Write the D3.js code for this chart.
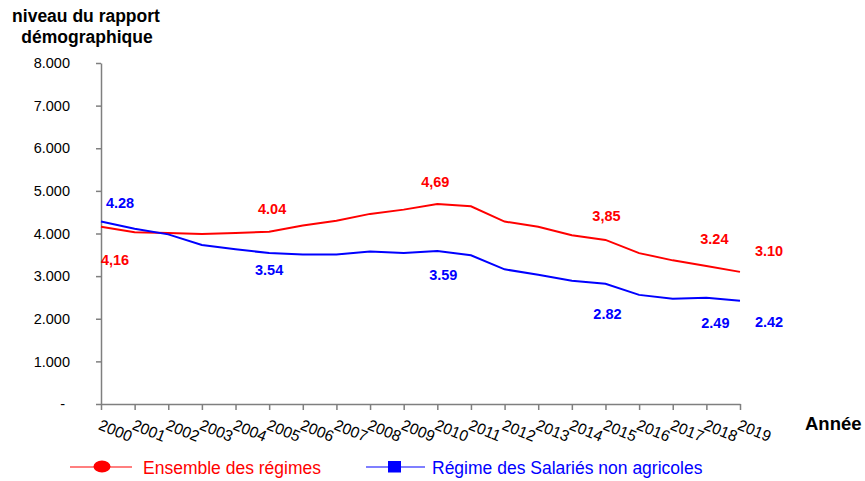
<!DOCTYPE html>
<html>
<head>
<meta charset="utf-8">
<script src="https://cdn.jsdelivr.net/npm/d3@7"></script>
<style>
  body { margin: 0; background: #fff; }
  text { font-family: "Liberation Sans", Arial, sans-serif; }
</style>
</head>
<body>
<svg width="865" height="481"></svg>
<script>
// data
var years = d3.range(2000, 2020);
var ensemble = [4.16, 4.03, 4.01, 3.99, 4.01, 4.04, 4.19, 4.30, 4.46, 4.56, 4.69, 4.64, 4.28, 4.16, 3.96, 3.85, 3.54, 3.37, 3.24, 3.10];
var salaries = [4.28, 4.11, 3.98, 3.73, 3.63, 3.54, 3.51, 3.51, 3.58, 3.54, 3.59, 3.49, 3.16, 3.03, 2.89, 2.82, 2.56, 2.47, 2.49, 2.42];
var yTicks = [0, 1, 2, 3, 4, 5, 6, 7, 8];
var yTickLabels = ["-", "1.000", "2.000", "3.000", "4.000", "5.000", "6.000", "7.000", "8.000"];

// value labels shown on the chart: year index and text
var redLabels = [[0, "4,16"], [5, "4.04"], [10, "4,69"], [15, "3,85"], [18, "3.24"], [19, "3.10"]];
var blueLabels = [[0, "4.28"], [5, "3.54"], [10, "3.59"], [15, "2.82"], [18, "2.49"], [19, "2.42"]];
// where each label sits relative to its point (px)
var redOffsets = [[14, 33], [3, -23], [-2, -22], [1, -24], [8, -27], [29, -21]];
var blueOffsets = [[19, -19], [0, 17], [6, 24], [2, 30], [9, 25], [29, 21]];

var svg = d3.select("svg");

var x = d3.scaleLinear().domain([2000, 2019]).range([101, 740]);
var y = d3.scaleLinear().domain([0, 8]).range([404, 63]);

// y axis
var yAxis = svg.append("g")
    .attr("transform", "translate(101,0)")
    .call(d3.axisLeft(y).tickValues(yTicks).tickSize(5).tickPadding(26).tickSizeOuter(0)
      .tickFormat(function(d, i) { return yTickLabels[i]; }));
yAxis.selectAll("path, line").attr("stroke", "#7f7f7f").attr("stroke-width", 1.5);
yAxis.selectAll("text")
    .attr("font-size", 14.5)
    .attr("fill", "#000")
    .style("font-family", "Liberation Sans, Arial, sans-serif");
yAxis.selectAll(".tick").filter(function(d) { return d === 0; }).select("text").attr("x", -36);

// x axis
var xAxis = svg.append("g")
    .attr("transform", "translate(0,404)")
    .call(d3.axisBottom(x).tickValues(years).tickSize(6).tickFormat(d3.format("d")).tickSizeOuter(0));
xAxis.selectAll("path, line").attr("stroke", "#7f7f7f").attr("stroke-width", 1.5);
xAxis.selectAll("text")
    .attr("font-size", 15.5)
    .attr("fill", "#000")
    .attr("text-anchor", "start")
    .attr("dy", 0)
    .attr("y", 0)
    .attr("transform", "translate(-4,25) rotate(22)")
    .style("font-family", "Liberation Sans, Arial, sans-serif");

// lines
var line = d3.line()
    .x(function(d, i) { return x(years[i]); })
    .y(function(d) { return y(d); });

svg.append("path").datum(ensemble)
    .attr("d", line).attr("fill", "none")
    .attr("stroke", "#ff0000").attr("stroke-width", 2);

svg.append("path").datum(salaries)
    .attr("d", line).attr("fill", "none")
    .attr("stroke", "#0000ff").attr("stroke-width", 2);

// value labels
function addLabels(labels, offsets, series, color) {
  svg.selectAll(null).data(labels).enter().append("text")
    .attr("x", function(d, i) { return x(years[d[0]]) + offsets[i][0]; })
    .attr("y", function(d, i) { return y(series[d[0]]) + offsets[i][1]; })
    .attr("dy", "0.36em")
    .attr("text-anchor", "middle")
    .attr("font-size", 14.5)
    .attr("font-weight", "bold")
    .attr("fill", color)
    .text(function(d) { return d[1]; });
}
addLabels(redLabels, redOffsets, ensemble, "#ff0000");
addLabels(blueLabels, blueOffsets, salaries, "#0000ff");

// titles
svg.append("text").attr("x", 86).attr("y", 22).attr("text-anchor", "middle")
    .attr("font-size", 17.5).attr("font-weight", "bold").text("niveau du rapport");
svg.append("text").attr("x", 87).attr("y", 43).attr("text-anchor", "middle")
    .attr("font-size", 17.5).attr("font-weight", "bold").text("démographique");
svg.append("text").attr("x", 805).attr("y", 430)
    .attr("font-size", 18.5).attr("font-weight", "bold").text("Année");

// legend
var lg = svg.append("g");
lg.append("line").attr("x1", 70).attr("x2", 132).attr("y1", 467).attr("y2", 467)
    .attr("stroke", "#ff0000").attr("stroke-width", 1.2);
lg.append("ellipse").attr("cx", 102).attr("cy", 466.5).attr("rx", 8.5).attr("ry", 6).attr("fill", "#ff0000");
lg.append("text").attr("x", 143).attr("y", 474).attr("font-size", 17.5).attr("fill", "#ff0000")
    .text("Ensemble des régimes");
lg.append("line").attr("x1", 366).attr("x2", 425).attr("y1", 467).attr("y2", 467)
    .attr("stroke", "#0000ff").attr("stroke-width", 1.2);
lg.append("rect").attr("x", 388).attr("y", 461).attr("width", 13).attr("height", 11.5).attr("fill", "#0000ff");
lg.append("text").attr("x", 432).attr("y", 474).attr("font-size", 17.5).attr("fill", "#0000ff")
    .text("Régime des Salariés non agricoles");
</script>
</body>
</html>
